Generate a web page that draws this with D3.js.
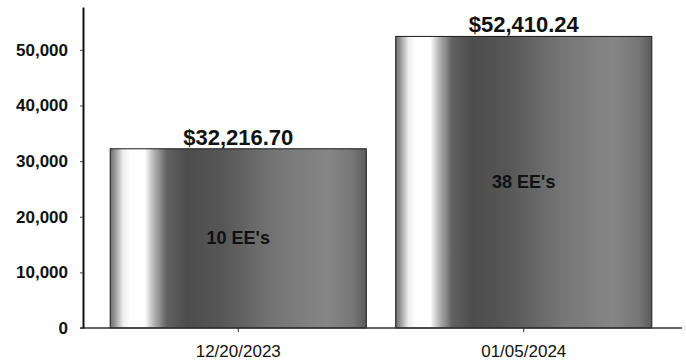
<!DOCTYPE html>
<html>
<head>
<meta charset="utf-8">
<script src="https://cdn.jsdelivr.net/npm/d3@7"></script>
<style>
  html, body { margin: 0; padding: 0; background: #fff; }
  svg { display: block; }
  text { font-family: "Liberation Sans", Arial, sans-serif; fill: #111; }
</style>
</head>
<body>
<svg id="chart" width="686" height="360"></svg>
<script>
const categories = ["12/20/2023", "01/05/2024"];
const values = [32216.70, 52410.24];
const innerLabels = ["10 EE's", "38 EE's"];
const yTicks = [0, 10000, 20000, 30000, 40000, 50000];
const yMax = 57700;

const svg = d3.select("#chart");
const W = 686, H = 360;
const axisX = 83, baseY = 328, topY = 7;

const x = d3.scaleBand().domain(categories).range([81, 681])
  .paddingInner(0.103).paddingOuter(0.1023);
const y = d3.scaleLinear().domain([0, yMax]).range([baseY, topY]);

// cylinder-like gradient
const defs = svg.append("defs");
const grad = defs.append("linearGradient").attr("id", "cyl")
  .attr("x1", "0%").attr("x2", "100%").attr("y1", "0%").attr("y2", "0%");
[[0, "#6a6a6a"], [0.02, "#9c9c9c"], [0.05, "#eeeeee"], [0.08, "#ffffff"],
 [0.135, "#ffffff"], [0.17, "#b4b4b4"], [0.22, "#626262"], [0.30, "#4c4c4c"],
 [0.45, "#585858"], [0.65, "#767676"], [0.85, "#868686"], [0.95, "#767676"],
 [1, "#5a5a5a"]].forEach(([o, c]) => grad.append("stop").attr("offset", o).attr("stop-color", c));

// bars
svg.append("g").selectAll("rect").data(values).join("rect")
  .attr("x", (d, i) => x(categories[i]))
  .attr("y", d => y(d))
  .attr("width", x.bandwidth())
  .attr("height", d => baseY - y(d))
  .attr("fill", "url(#cyl)")
  .attr("stroke", "#1a1a1a")
  .attr("stroke-width", 1);

// baseline / x axis
const xAxis = d3.axisBottom(x).tickSize(4).tickSizeOuter(0).tickPadding(13);
const gx = svg.append("g").attr("transform", `translate(0,${baseY})`).call(xAxis);
gx.select(".domain").remove();
gx.selectAll(".tick line").attr("stroke", "#222");
gx.selectAll(".tick text").attr("font-size", 17).attr("font-family", "Liberation Sans, Arial, sans-serif").attr("fill", "#111");
svg.append("line").attr("x1", 80).attr("x2", 682).attr("y1", baseY).attr("y2", baseY)
  .attr("stroke", "#333").attr("stroke-width", 1.5);

// y axis
const yAxis = d3.axisLeft(y).tickValues(yTicks).tickFormat(d3.format(","))
  .tickSize(3).tickSizeOuter(0).tickPadding(12);
const gy = svg.append("g").attr("transform", `translate(${axisX},0)`).call(yAxis);
gy.select(".domain").attr("stroke", "#111").attr("stroke-width", 2);
gy.selectAll(".tick line").attr("stroke", "#444");
gy.selectAll(".tick text").attr("font-size", 17).attr("font-weight", "bold")
  .attr("font-family", "Liberation Sans, Arial, sans-serif").attr("fill", "#111");

// value labels
const fmt = d3.format("$,.2f");
svg.append("g").selectAll("text").data(values).join("text")
  .attr("x", (d, i) => x(categories[i]) + x.bandwidth() / 2)
  .attr("y", d => y(d) - 4)
  .attr("text-anchor", "middle")
  .attr("font-size", 22).attr("font-weight", "bold")
  .text(d => fmt(d));

// inner labels
svg.append("g").selectAll("text").data(values).join("text")
  .attr("x", (d, i) => x(categories[i]) + x.bandwidth() / 2)
  .attr("y", d => (y(d) + baseY) / 2)
  .attr("text-anchor", "middle")
  .attr("dominant-baseline", "central")
  .attr("font-size", 18).attr("font-weight", "bold")
  .attr("fill", "#000")
  .text((d, i) => innerLabels[i]);
</script>
</body>
</html>
